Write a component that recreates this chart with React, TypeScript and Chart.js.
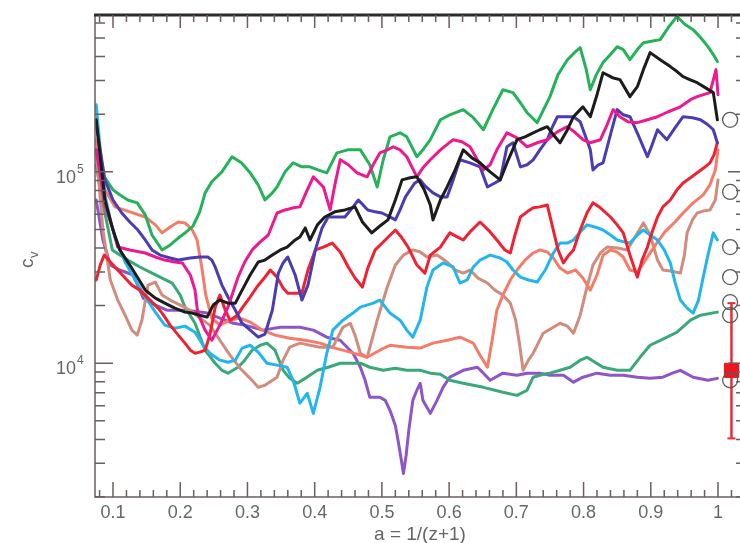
import React, { useEffect, useRef } from "react";
import { Chart, registerables } from "chart.js";

Chart.register(...registerables);

// axis limits
const X_MIN = 0.0732;
const X_MAX = 1.0327;
const Y_MIN = 2000;
const Y_MAX = 6.6e5;

const xTickValues = [0.1, 0.2, 0.3, 0.4, 0.5, 0.6, 0.7, 0.8, 0.9, 1.0];
const xTickLabels = ["0.1", "0.2", "0.3", "0.4", "0.5", "0.6", "0.7", "0.8", "0.9", "1"];
const yDecades = [4, 5];
const yDecadeLabels = ["4", "5"];

// series: [a, log10(c_v)]
const greenUpper: [number, number][] = [
  [0.075, 5.115], [0.081, 5.010], [0.090, 4.958], [0.100, 4.906], [0.110, 4.880], [0.122, 4.853], [0.136, 4.838], [0.148, 4.775], [0.158, 4.670], [0.173, 4.592], [0.185, 4.618], [0.197, 4.654], [0.209, 4.686], [0.219, 4.717], [0.229, 4.791], [0.237, 4.890], [0.247, 4.948], [0.262, 5.000], [0.277, 5.079], [0.291, 5.047], [0.304, 4.995], [0.316, 4.932], [0.326, 4.853], [0.337, 4.890], [0.344, 4.921], [0.356, 5.000], [0.368, 5.047], [0.381, 5.026], [0.393, 5.026], [0.405, 5.010], [0.418, 4.995], [0.433, 5.099], [0.449, 5.115], [0.468, 5.115], [0.482, 5.037], [0.493, 4.921], [0.502, 5.063], [0.512, 5.183], [0.527, 5.204], [0.537, 5.183], [0.552, 5.079], [0.561, 5.115], [0.572, 5.168], [0.587, 5.272], [0.601, 5.298], [0.621, 5.325], [0.636, 5.283], [0.651, 5.220], [0.665, 5.325], [0.680, 5.429], [0.695, 5.414], [0.706, 5.361], [0.716, 5.309], [0.731, 5.257], [0.750, 5.393], [0.762, 5.508], [0.776, 5.586], [0.788, 5.628], [0.795, 5.649], [0.804, 5.534], [0.810, 5.429], [0.819, 5.508], [0.829, 5.571], [0.840, 5.613], [0.850, 5.654], [0.859, 5.639], [0.869, 5.586], [0.880, 5.639], [0.889, 5.675], [0.899, 5.681], [0.914, 5.691], [0.926, 5.754], [0.939, 5.812], [0.951, 5.770], [0.963, 5.743], [0.974, 5.702], [0.985, 5.654], [0.993, 5.613], [0.999, 5.576],
];

const blackRun: [number, number][] = [
  [0.075, 5.272], [0.088, 4.853], [0.100, 4.696], [0.110, 4.592], [0.125, 4.513], [0.137, 4.445], [0.148, 4.382], [0.163, 4.340], [0.177, 4.314], [0.192, 4.288], [0.207, 4.267], [0.218, 4.262], [0.229, 4.251], [0.240, 4.241], [0.249, 4.304], [0.259, 4.330], [0.271, 4.314], [0.282, 4.314], [0.292, 4.382], [0.304, 4.461], [0.316, 4.529], [0.326, 4.539], [0.337, 4.565], [0.349, 4.592], [0.359, 4.607], [0.371, 4.644], [0.378, 4.660], [0.386, 4.707], [0.393, 4.644], [0.404, 4.723], [0.415, 4.764], [0.430, 4.791], [0.445, 4.801], [0.460, 4.817], [0.471, 4.738], [0.485, 4.681], [0.497, 4.717], [0.509, 4.749], [0.520, 4.853], [0.530, 4.958], [0.542, 4.969], [0.552, 4.974], [0.563, 4.906], [0.572, 4.827], [0.576, 4.749], [0.587, 4.853], [0.597, 4.921], [0.609, 5.010], [0.621, 5.115], [0.634, 5.073], [0.646, 5.047], [0.661, 5.000], [0.676, 4.958], [0.688, 5.063], [0.701, 5.168], [0.713, 5.183], [0.725, 5.204], [0.735, 5.220], [0.746, 5.236], [0.755, 5.194], [0.765, 5.152], [0.776, 5.220], [0.785, 5.288], [0.795, 5.325], [0.799, 5.340], [0.810, 5.288], [0.820, 5.403], [0.829, 5.518], [0.843, 5.492], [0.854, 5.482], [0.869, 5.393], [0.880, 5.445], [0.889, 5.534], [0.899, 5.623], [0.914, 5.586], [0.929, 5.550], [0.939, 5.524], [0.948, 5.497], [0.958, 5.482], [0.969, 5.466], [0.981, 5.440], [0.993, 5.414], [0.999, 5.272],
];

const magentaRun: [number, number][] = [
  [0.075, 5.115], [0.088, 4.827], [0.100, 4.696], [0.107, 4.607], [0.125, 4.592], [0.148, 4.576], [0.163, 4.555], [0.177, 4.539], [0.192, 4.529], [0.203, 4.524], [0.215, 4.461], [0.222, 4.382], [0.226, 4.262], [0.237, 4.173], [0.247, 4.120], [0.259, 4.199], [0.271, 4.293], [0.286, 4.450], [0.296, 4.529], [0.307, 4.592], [0.319, 4.634], [0.331, 4.670], [0.344, 4.785], [0.356, 4.801], [0.368, 4.812], [0.378, 4.817], [0.389, 4.906], [0.398, 4.974], [0.413, 4.921], [0.423, 4.801], [0.430, 4.932], [0.438, 5.063], [0.450, 5.037], [0.463, 4.995], [0.478, 4.974], [0.487, 5.037], [0.497, 5.099], [0.508, 5.115], [0.517, 5.131], [0.527, 5.115], [0.537, 5.079], [0.552, 4.974], [0.561, 5.021], [0.572, 5.063], [0.587, 5.115], [0.606, 5.168], [0.619, 5.157], [0.631, 5.131], [0.642, 5.063], [0.651, 5.010], [0.661, 5.037], [0.671, 5.115], [0.686, 5.204], [0.701, 5.178], [0.716, 5.131], [0.731, 5.152], [0.746, 5.168], [0.761, 5.209], [0.776, 5.236], [0.788, 5.204], [0.799, 5.168], [0.810, 5.152], [0.825, 5.168], [0.835, 5.246], [0.844, 5.325], [0.854, 5.288], [0.866, 5.262], [0.880, 5.257], [0.895, 5.272], [0.910, 5.288], [0.926, 5.314], [0.944, 5.340], [0.959, 5.377], [0.969, 5.393], [0.988, 5.414], [0.997, 5.534], [1.000, 5.403],
];

const indigoRun: [number, number][] = [
  [0.075, 5.246], [0.088, 4.958], [0.100, 4.853], [0.113, 4.785], [0.125, 4.738], [0.137, 4.696], [0.148, 4.644], [0.158, 4.592], [0.170, 4.565], [0.185, 4.550], [0.197, 4.539], [0.215, 4.550], [0.229, 4.555], [0.241, 4.555], [0.247, 4.539], [0.252, 4.503], [0.262, 4.408], [0.271, 4.346], [0.282, 4.277], [0.292, 4.209], [0.304, 4.173], [0.316, 4.136], [0.326, 4.152], [0.337, 4.277], [0.346, 4.471], [0.353, 4.524], [0.360, 4.555], [0.371, 4.461], [0.381, 4.330], [0.390, 4.408], [0.401, 4.592], [0.411, 4.707], [0.420, 4.764], [0.430, 4.764], [0.445, 4.764], [0.456, 4.812], [0.465, 4.853], [0.472, 4.827], [0.479, 4.801], [0.490, 4.791], [0.500, 4.785], [0.509, 4.770], [0.520, 4.749], [0.527, 4.801], [0.535, 4.869], [0.542, 4.906], [0.549, 4.942], [0.557, 4.958], [0.564, 4.927], [0.576, 4.890], [0.587, 4.869], [0.597, 4.869], [0.606, 4.958], [0.616, 5.063], [0.631, 5.047], [0.646, 5.026], [0.657, 4.921], [0.668, 4.942], [0.676, 4.958], [0.686, 5.131], [0.695, 5.152], [0.706, 5.026], [0.716, 5.037], [0.725, 5.063], [0.735, 5.115], [0.746, 5.168], [0.753, 5.230], [0.761, 5.288], [0.773, 5.288], [0.785, 5.288], [0.795, 5.262], [0.802, 5.194], [0.810, 5.115], [0.814, 5.010], [0.822, 5.037], [0.829, 5.047], [0.840, 5.194], [0.850, 5.325], [0.859, 5.298], [0.869, 5.288], [0.881, 5.194], [0.895, 5.079], [0.902, 5.141], [0.910, 5.220], [0.917, 5.194], [0.924, 5.168], [0.936, 5.230], [0.948, 5.288], [0.962, 5.283], [0.974, 5.272], [0.985, 5.246], [0.993, 5.220], [0.999, 5.152],
];

const redRun: [number, number][] = [
  [0.075, 4.435], [0.081, 4.513], [0.087, 4.565], [0.096, 4.529], [0.107, 4.487], [0.118, 4.445], [0.128, 4.408], [0.140, 4.382], [0.155, 4.330], [0.167, 4.288], [0.173, 4.262], [0.185, 4.199], [0.197, 4.147], [0.207, 4.105], [0.215, 4.068], [0.222, 4.052], [0.229, 4.058], [0.237, 4.068], [0.244, 4.147], [0.252, 4.293], [0.259, 4.356], [0.267, 4.277], [0.274, 4.225], [0.285, 4.251], [0.293, 4.293], [0.304, 4.346], [0.314, 4.398], [0.325, 4.445], [0.334, 4.487], [0.344, 4.450], [0.353, 4.393], [0.360, 4.366], [0.371, 4.366], [0.381, 4.366], [0.390, 4.487], [0.401, 4.592], [0.413, 4.607], [0.426, 4.628], [0.438, 4.581], [0.450, 4.503], [0.460, 4.445], [0.471, 4.398], [0.479, 4.497], [0.490, 4.592], [0.505, 4.644], [0.520, 4.696], [0.530, 4.654], [0.539, 4.607], [0.552, 4.513], [0.564, 4.471], [0.572, 4.565], [0.587, 4.607], [0.601, 4.681], [0.612, 4.660], [0.621, 4.644], [0.631, 4.686], [0.646, 4.738], [0.661, 4.686], [0.671, 4.644], [0.683, 4.592], [0.691, 4.576], [0.698, 4.670], [0.706, 4.764], [0.716, 4.791], [0.725, 4.812], [0.735, 4.817], [0.746, 4.827], [0.755, 4.696], [0.762, 4.592], [0.770, 4.524], [0.777, 4.560], [0.785, 4.592], [0.795, 4.696], [0.805, 4.785], [0.814, 4.838], [0.825, 4.812], [0.840, 4.764], [0.850, 4.723], [0.859, 4.681], [0.869, 4.565], [0.880, 4.450], [0.887, 4.539], [0.895, 4.607], [0.902, 4.686], [0.910, 4.764], [0.918, 4.817], [0.929, 4.853], [0.939, 4.906], [0.948, 4.942], [0.959, 4.969], [0.969, 4.995], [0.979, 5.021], [0.988, 5.047], [0.994, 5.089], [0.999, 5.152],
];

const cyanRun: [number, number][] = [
  [0.075, 5.351], [0.081, 5.115], [0.088, 4.880], [0.096, 4.749], [0.103, 4.660], [0.118, 4.529], [0.133, 4.435], [0.148, 4.346], [0.163, 4.267], [0.177, 4.199], [0.192, 4.183], [0.207, 4.194], [0.222, 4.162], [0.234, 4.094], [0.244, 4.052], [0.259, 4.016], [0.271, 4.005], [0.282, 4.016], [0.292, 4.079], [0.304, 4.094], [0.316, 4.058], [0.329, 4.000], [0.344, 3.990], [0.359, 3.979], [0.368, 3.911], [0.378, 3.791], [0.389, 3.843], [0.398, 3.738], [0.408, 3.874], [0.418, 4.052], [0.427, 4.173], [0.442, 4.225], [0.457, 4.262], [0.468, 4.293], [0.487, 4.314], [0.497, 4.330], [0.512, 4.262], [0.527, 4.225], [0.537, 4.173], [0.546, 4.136], [0.557, 4.225], [0.567, 4.398], [0.576, 4.487], [0.591, 4.524], [0.606, 4.503], [0.616, 4.419], [0.627, 4.435], [0.636, 4.503], [0.646, 4.539], [0.661, 4.565], [0.676, 4.550], [0.686, 4.529], [0.695, 4.487], [0.706, 4.450], [0.718, 4.435], [0.731, 4.424], [0.743, 4.487], [0.755, 4.576], [0.765, 4.628], [0.776, 4.628], [0.785, 4.644], [0.795, 4.686], [0.805, 4.723], [0.817, 4.712], [0.829, 4.696], [0.840, 4.670], [0.850, 4.644], [0.860, 4.634], [0.869, 4.628], [0.880, 4.670], [0.889, 4.696], [0.899, 4.670], [0.910, 4.644], [0.920, 4.592], [0.929, 4.524], [0.936, 4.424], [0.944, 4.330], [0.954, 4.288], [0.963, 4.262], [0.971, 4.330], [0.978, 4.450], [0.985, 4.565], [0.993, 4.681], [0.999, 4.644],
];

const greenLower: [number, number][] = [
  [0.075, 5.037], [0.081, 4.906], [0.090, 4.749], [0.099, 4.592], [0.110, 4.565], [0.122, 4.539], [0.140, 4.503], [0.158, 4.471], [0.173, 4.445], [0.188, 4.419], [0.200, 4.356], [0.207, 4.293], [0.222, 4.209], [0.237, 4.068], [0.252, 4.000], [0.262, 3.963], [0.271, 3.948], [0.286, 3.979], [0.296, 4.016], [0.307, 4.068], [0.319, 4.094], [0.329, 4.105], [0.341, 4.068], [0.353, 3.963], [0.363, 3.921], [0.374, 3.895], [0.386, 3.921], [0.404, 3.963], [0.420, 3.979], [0.438, 4.000], [0.453, 4.000], [0.468, 4.000], [0.482, 3.979], [0.502, 3.963], [0.520, 3.974], [0.537, 3.963], [0.557, 3.963], [0.572, 3.948], [0.587, 3.942], [0.601, 3.911], [0.621, 3.895], [0.651, 3.874], [0.680, 3.848], [0.701, 3.832], [0.716, 3.859], [0.725, 3.927], [0.740, 3.942], [0.750, 3.948], [0.765, 3.963], [0.780, 3.979], [0.795, 4.016], [0.805, 4.031], [0.817, 4.005], [0.829, 3.979], [0.850, 3.963], [0.869, 3.963], [0.884, 4.031], [0.899, 4.094], [0.918, 4.126], [0.939, 4.162], [0.959, 4.225], [0.974, 4.251], [0.999, 4.267],
];

const purpleRun: [number, number][] = [
  [0.075, 4.853], [0.085, 4.644], [0.096, 4.513], [0.110, 4.487], [0.130, 4.461], [0.145, 4.340], [0.163, 4.304], [0.180, 4.277], [0.210, 4.277], [0.240, 4.262], [0.259, 4.236], [0.279, 4.209], [0.296, 4.199], [0.323, 4.173], [0.349, 4.188], [0.378, 4.188], [0.398, 4.173], [0.418, 4.136], [0.438, 4.120], [0.457, 4.052], [0.468, 3.979], [0.475, 3.911], [0.482, 3.822], [0.497, 3.822], [0.505, 3.806], [0.512, 3.754], [0.520, 3.675], [0.524, 3.597], [0.529, 3.492], [0.532, 3.424], [0.536, 3.518], [0.540, 3.649], [0.546, 3.806], [0.552, 3.859], [0.557, 3.895], [0.561, 3.806], [0.572, 3.738], [0.582, 3.806], [0.591, 3.874], [0.601, 3.927], [0.621, 3.963], [0.642, 3.979], [0.651, 3.948], [0.661, 3.911], [0.680, 3.948], [0.701, 3.937], [0.716, 3.948], [0.735, 3.948], [0.750, 3.937], [0.770, 3.937], [0.785, 3.901], [0.799, 3.927], [0.820, 3.948], [0.840, 3.937], [0.859, 3.937], [0.880, 3.927], [0.899, 3.921], [0.918, 3.927], [0.932, 3.948], [0.944, 3.963], [0.963, 3.927], [0.985, 3.911], [0.999, 3.921],
];

const coralRun: [number, number][] = [
  [0.075, 5.168], [0.088, 4.906], [0.103, 4.817], [0.125, 4.791], [0.148, 4.764], [0.163, 4.723], [0.173, 4.681], [0.185, 4.712], [0.197, 4.738], [0.207, 4.733], [0.218, 4.696], [0.225, 4.644], [0.232, 4.503], [0.238, 4.356], [0.247, 4.236], [0.259, 4.199], [0.274, 4.225], [0.289, 4.236], [0.304, 4.215], [0.322, 4.173], [0.341, 4.147], [0.363, 4.131], [0.386, 4.120], [0.408, 4.105], [0.430, 4.079], [0.453, 4.058], [0.478, 4.031], [0.497, 4.068], [0.512, 4.094], [0.537, 4.084], [0.557, 4.079], [0.576, 4.105], [0.597, 4.120], [0.616, 4.136], [0.636, 4.105], [0.646, 4.042], [0.657, 3.979], [0.664, 4.120], [0.671, 4.277], [0.680, 4.356], [0.691, 4.435], [0.701, 4.487], [0.713, 4.539], [0.725, 4.576], [0.735, 4.592], [0.746, 4.581], [0.755, 4.550], [0.765, 4.497], [0.776, 4.471], [0.788, 4.487], [0.799, 4.445], [0.810, 4.382], [0.820, 4.461], [0.829, 4.565], [0.840, 4.592], [0.850, 4.581], [0.859, 4.555], [0.869, 4.487], [0.880, 4.476], [0.892, 4.539], [0.907, 4.618], [0.921, 4.686], [0.936, 4.738], [0.948, 4.785], [0.963, 4.838], [0.978, 4.880], [0.988, 4.932], [0.996, 5.010], [1.000, 5.115],
];

const rosyRun: [number, number][] = [
  [0.075, 5.115], [0.085, 4.696], [0.096, 4.435], [0.107, 4.330], [0.118, 4.251], [0.128, 4.173], [0.136, 4.147], [0.143, 4.225], [0.152, 4.408], [0.163, 4.424], [0.173, 4.356], [0.185, 4.330], [0.200, 4.304], [0.215, 4.277], [0.229, 4.236], [0.244, 4.199], [0.259, 4.120], [0.274, 4.042], [0.289, 3.974], [0.304, 3.921], [0.316, 3.874], [0.326, 3.885], [0.344, 3.927], [0.353, 4.016], [0.363, 4.084], [0.378, 4.105], [0.393, 4.094], [0.408, 4.084], [0.427, 4.084], [0.442, 4.188], [0.453, 4.209], [0.460, 4.147], [0.468, 4.052], [0.478, 4.031], [0.485, 4.120], [0.493, 4.225], [0.508, 4.398], [0.520, 4.513], [0.532, 4.565], [0.546, 4.592], [0.557, 4.581], [0.567, 4.555], [0.582, 4.565], [0.597, 4.529], [0.609, 4.487], [0.621, 4.471], [0.631, 4.487], [0.643, 4.445], [0.657, 4.419], [0.668, 4.382], [0.680, 4.356], [0.691, 4.314], [0.699, 4.225], [0.705, 4.094], [0.710, 3.963], [0.718, 4.016], [0.725, 4.052], [0.740, 4.157], [0.755, 4.188], [0.765, 4.209], [0.776, 4.194], [0.785, 4.157], [0.795, 4.251], [0.805, 4.398], [0.814, 4.513], [0.825, 4.576], [0.835, 4.607], [0.850, 4.602], [0.865, 4.592], [0.874, 4.644], [0.889, 4.733], [0.899, 4.670], [0.910, 4.539], [0.918, 4.487], [0.929, 4.482], [0.944, 4.471], [0.950, 4.565], [0.954, 4.681], [0.962, 4.749], [0.969, 4.785], [0.979, 4.796], [0.988, 4.801], [0.996, 4.853], [1.000, 4.958],
];

// observed values at a ~ 1 (open circles) and the red square with error bar
const circleA = 1.018;
const circleLogs = [5.272, 4.895, 4.607, 4.450, 4.319, 4.251, 3.911];
const squareA = 1.02;
const squareLog = 3.963;
const squareErrLogs = [4.314, 3.607];

const pts = (pairs: [number, number][]) => pairs.map(([a, lg]) => ({ x: a, y: Math.pow(10, lg) }));

const FONT = '"Liberation Sans", Arial, sans-serif';

const framePlugin = {
  id: "frame",
  afterDraw(chart: any) {
    const ctx = chart.ctx;
    const { left, top, right, bottom } = chart.chartArea;
    const xs = chart.scales.x;
    const ys = chart.scales.y;
    const tickColor = "#6a5f5c";
    ctx.save();
    // frame
    ctx.strokeStyle = tickColor;
    ctx.lineWidth = 1.5;
    ctx.beginPath();
    ctx.moveTo(left, top);
    ctx.lineTo(left, bottom);
    ctx.lineTo(right + 10, bottom);
    ctx.stroke();
    ctx.strokeStyle = "#2f2a2a";
    ctx.lineWidth = 3;
    ctx.beginPath();
    ctx.moveTo(left - 1, top);
    ctx.lineTo(right + 10, top);
    ctx.stroke();

    // y ticks (inward), left and right
    ctx.strokeStyle = tickColor;
    ctx.lineWidth = 1.5;
    const rightAxis = right + 6;
    for (let d = 3; d <= 5; d++) {
      for (let k = 1; k <= 9; k++) {
        const v = k * Math.pow(10, d);
        if (v < Y_MIN || v > Y_MAX) continue;
        const py = ys.getPixelForValue(v);
        const len = k === 1 ? 18 : 10;
        ctx.beginPath();
        ctx.moveTo(left, py);
        ctx.lineTo(left + len, py);
        ctx.moveTo(rightAxis, py);
        ctx.lineTo(rightAxis - len, py);
        ctx.stroke();
      }
    }
    // x ticks (inward), bottom and top
    for (let i = 4; i <= 51; i++) {
      const a = i * 0.02;
      const major = i % 5 === 0;
      const px = xs.getPixelForValue(a);
      ctx.beginPath();
      ctx.moveTo(px, bottom);
      ctx.lineTo(px, bottom - (major ? 15 : 7));
      ctx.moveTo(px, top);
      ctx.lineTo(px, top + (major ? 13 : 7));
      ctx.stroke();
    }

    // tick labels
    ctx.fillStyle = "#666";
    ctx.font = `18px ${FONT}`;
    ctx.textAlign = "center";
    ctx.textBaseline = "alphabetic";
    xTickValues.forEach((v, i) => {
      ctx.fillText(xTickLabels[i], xs.getPixelForValue(v), 518);
    });
    yDecades.forEach((d, i) => {
      const py = ys.getPixelForValue(Math.pow(10, d));
      ctx.font = `18px ${FONT}`;
      ctx.textAlign = "right";
      ctx.fillText("10", 76, py + 11);
      ctx.font = `12px ${FONT}`;
      ctx.textAlign = "left";
      ctx.fillText(yDecadeLabels[i], 77, py + 1);
    });

    // axis titles
    ctx.font = `19px ${FONT}`;
    ctx.textAlign = "center";
    ctx.fillText("a = 1/(z+1)", 420, 540);
    ctx.save();
    ctx.translate(33, 268);
    ctx.rotate(-Math.PI / 2);
    ctx.textAlign = "left";
    ctx.font = `19px ${FONT}`;
    ctx.fillText("c", 0, 0);
    ctx.font = `13px ${FONT}`;
    ctx.fillText("v", 10, 5);
    ctx.restore();
    ctx.restore();
  },
};

const line = (label: string, data: [number, number][], color: string, width = 3) => ({
  label,
  data: pts(data),
  borderColor: color,
  backgroundColor: color,
  borderWidth: width,
  pointRadius: 0,
  borderJoinStyle: "round" as const,
  borderCapStyle: "round" as const,
  tension: 0,
  fill: false,
});

export default function App() {
  const ref = useRef<HTMLCanvasElement | null>(null);
  useEffect(() => {
    if (!ref.current) return;
    const chart = new Chart(ref.current, {
      type: "line",
      data: {
        datasets: [
          {
            label: "observed",
            data: circleLogs.map((lg) => ({ x: circleA, y: Math.pow(10, lg) })),
            showLine: false,
            pointRadius: 7.5,
            pointStyle: "circle",
            pointBorderColor: "#5a5a5a",
            pointBackgroundColor: "rgba(0,0,0,0)",
            pointBorderWidth: 1.3,
          },
          {
            label: "square",
            data: [{ x: squareA, y: Math.pow(10, squareLog) }],
            showLine: false,
            pointRadius: 10,
            pointStyle: "rect",
            pointBorderColor: "#f0141e",
            pointBackgroundColor: "#f0141e",
            pointBorderWidth: 1,
          },
          {
            label: "errorbar",
            data: squareErrLogs.map((lg) => ({ x: squareA, y: Math.pow(10, lg) })),
            borderColor: "#ee2a3a",
            borderWidth: 2.5,
            pointRadius: 4,
            pointStyle: "line",
            pointBorderColor: "#ee2a3a",
            pointBorderWidth: 2,
          },
          line("black", blackRun, "#1c1c1c"),
          line("magenta", magentaRun, "#ec1a8e"),
          line("indigo", indigoRun, "#4a3db3"),
          line("greenUpper", greenUpper, "#25b25a"),
          line("red", redRun, "#ee2233"),
          line("cyan", cyanRun, "#22b6ec"),
          line("coral", coralRun, "#f47c68"),
          line("rosy", rosyRun, "#d08c7c"),
          line("greenLower", greenLower, "#3aa878"),
          line("purple", purpleRun, "#8f55c6"),
        ] as any,
      },
      options: {
        animation: false,
        responsive: true,
        maintainAspectRatio: false,
        events: [],
        layout: { autoPadding: false, padding: { left: 95, top: 15, right: 0, bottom: 46 } },
        plugins: { legend: { display: false }, tooltip: { enabled: false }, title: { display: false } },
        scales: {
          x: { type: "linear", min: X_MIN, max: X_MAX, display: false },
          y: { type: "logarithmic", min: Y_MIN, max: Y_MAX, display: false },
        },
      },
      plugins: [framePlugin],
    });
    return () => chart.destroy();
  }, []);
  return (
    <div style={{ position: "fixed", left: 0, top: 0, width: 740, height: 543, background: "#fff" }}>
      <canvas ref={ref} />
    </div>
  );
}
